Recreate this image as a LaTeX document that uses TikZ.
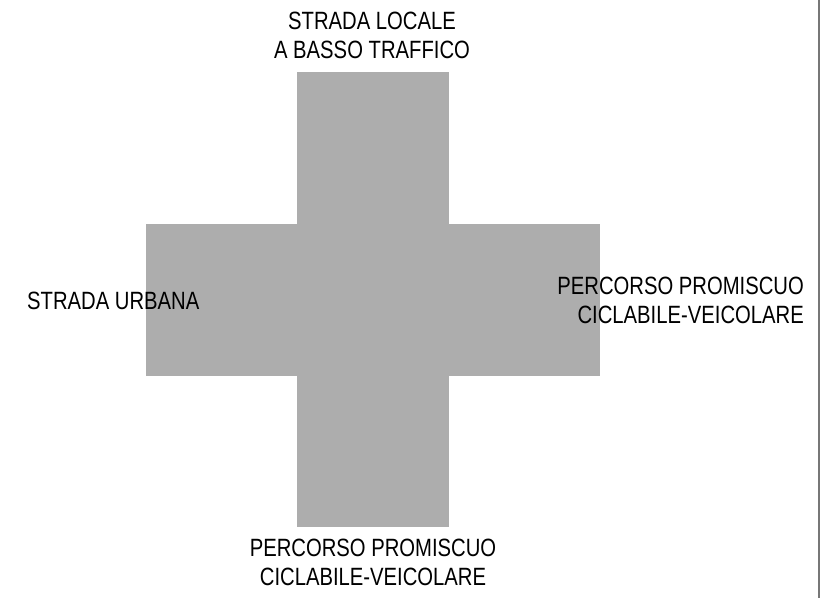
\documentclass[tikz,border=0pt]{standalone}
\usepackage{fontspec}
\newfontfamily\narrowfont{Liberation Sans}[FakeStretch=0.81]
\definecolor{roadgray}{RGB}{173,173,173}
\definecolor{edgegray}{RGB}{119,119,119}
\begin{document}
\begin{tikzpicture}[
  x=1pt, y=-1pt,
  road/.style={fill=roadgray, draw=none},
  rim/.style={line width=2pt, edgegray},
  lab/.style={font=\narrowfont\fontsize{25}{29}\selectfont, inner sep=0pt}]

\useasboundingbox (0,0) rectangle (839,598);

% ========================= the crossing =========================
\fill[road] (297,72) rectangle (449,527);
\fill[road] (146,224) rectangle (600,376);
\draw[rim] (819,0) -- (819,598);

% ========================= the four arms ========================
\node[lab, anchor=north, align=center] (north) at (372,12.3)
  {STRADA LOCALE\\A BASSO TRAFFICO};
\node[lab, anchor=base west] (west) at (27,309) {STRADA URBANA};
\node[lab, anchor=north east, align=right] (east) at (804,277)
  {PERCORSO PROMISCUO\\CICLABILE-VEICOLARE};
\node[lab, anchor=north, align=center] (south) at (373,539)
  {PERCORSO PROMISCUO\\CICLABILE-VEICOLARE};

\end{tikzpicture}
\end{document}
